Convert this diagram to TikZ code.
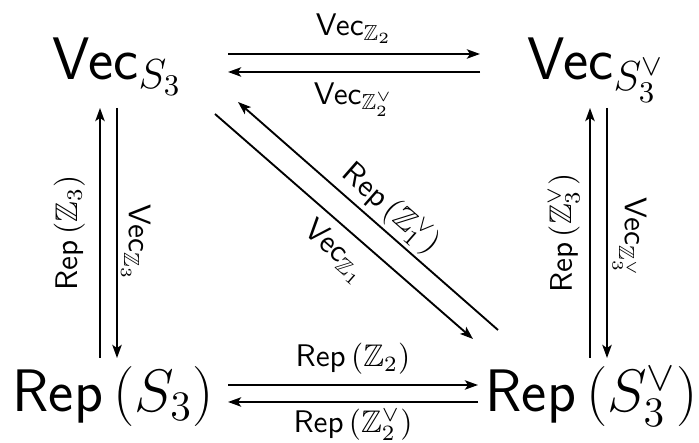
\RequirePackage{fix-cm}
\documentclass[tikz,border=0pt]{standalone}
\usepackage{amssymb}
\usetikzlibrary{arrows.meta}

\begin{document}
\begin{tikzpicture}[
    x=0.32pt, y=-0.32pt,
    obj/.style={inner sep=0pt, anchor=base west, font=\fontsize{19.2}{23}\selectfont},
    map/.style={-{Stealth[length=4.2pt, width=3pt, inset=1pt]}, line width=0.6pt},
    lbl/.style={font=\normalsize, inner sep=#1},
    lbl/.default=3pt
]
\useasboundingbox (0,0) rectangle (699,443);

% Objects - the four corners
\node[obj] (vs) at (52,80) {$\mathsf{Vec}_{S_3}$};
\node[obj] (vsd) at (527,80) {$\mathsf{Vec}_{S_3^\vee}$};
\node[obj] (rs) at (12,412) {$\mathsf{Rep}\left(S_3\right)$};
\node[obj] (rsd) at (485,412) {$\mathsf{Rep}\left(S_3^\vee\right)$};

% Top pair
\draw[map] ([shift={(176,-26)}]vs.base west) -- ([shift={(-47,-26)}]vsd.base west)
    node[midway, above, lbl] {$\mathsf{Vec}_{\mathbb{Z}_2}$};
\draw[map] ([shift={(-47,-8)}]vsd.base west) -- ([shift={(176,-8)}]vs.base west)
    node[midway, below, lbl] {$\mathsf{Vec}_{\mathbb{Z}_2^\vee}$};

% Bottom pair
\draw[map] ([shift={(216,-27)}]rs.base west) -- ([shift={(-7,-27)}]rsd.base west)
    node[midway, above, lbl] {$\mathsf{Rep}\left(\mathbb{Z}_2\right)$};
\draw[map] ([shift={(-7,-10)}]rsd.base west) -- ([shift={(216,-10)}]rs.base west)
    node[midway, below, lbl=2pt] {$\mathsf{Rep}\left(\mathbb{Z}_2^\vee\right)$};

% Left pair
\draw[map] ([shift={(88,-54)}]rs.base west) -- ([shift={(48,28)}]vs.base west)
    node[midway, lbl=4.5pt, rotate=90, anchor=south] {$\mathsf{Rep}\left(\mathbb{Z}_3\right)$};
\draw[map] ([shift={(65,28)}]vs.base west) -- ([shift={(105,-54)}]rs.base west)
    node[pos=0.54, lbl=1pt, rotate=-90, anchor=south] {$\mathsf{Vec}_{\mathbb{Z}_3}$};

% Right pair
\draw[map] ([shift={(105,-54)}]rsd.base west) -- ([shift={(63,28)}]vsd.base west)
    node[midway, lbl, rotate=90, anchor=south] {$\mathsf{Rep}\left(\mathbb{Z}_3^\vee\right)$};
\draw[map] ([shift={(80,28)}]vsd.base west) -- ([shift={(122,-54)}]rsd.base west)
    node[pos=0.52, lbl=1.5pt, rotate=-90, anchor=south] {$\mathsf{Vec}_{\mathbb{Z}_3^\vee}$};

% Diagonal pair
\draw[map] ([shift={(163,34)}]vs.base west) -- ([shift={(-12,-73)}]rsd.base west)
    node[pos=0.53, sloped, below, lbl] {$\mathsf{Vec}_{\mathbb{Z}_1}$};
\draw[map] ([shift={(13,-82)}]rsd.base west) -- ([shift={(186,22)}]vs.base west)
    node[pos=0.465, sloped, above, lbl=1pt] {$\mathsf{Rep}\left(\mathbb{Z}_1^\vee\right)$};
\end{tikzpicture}
\end{document}
